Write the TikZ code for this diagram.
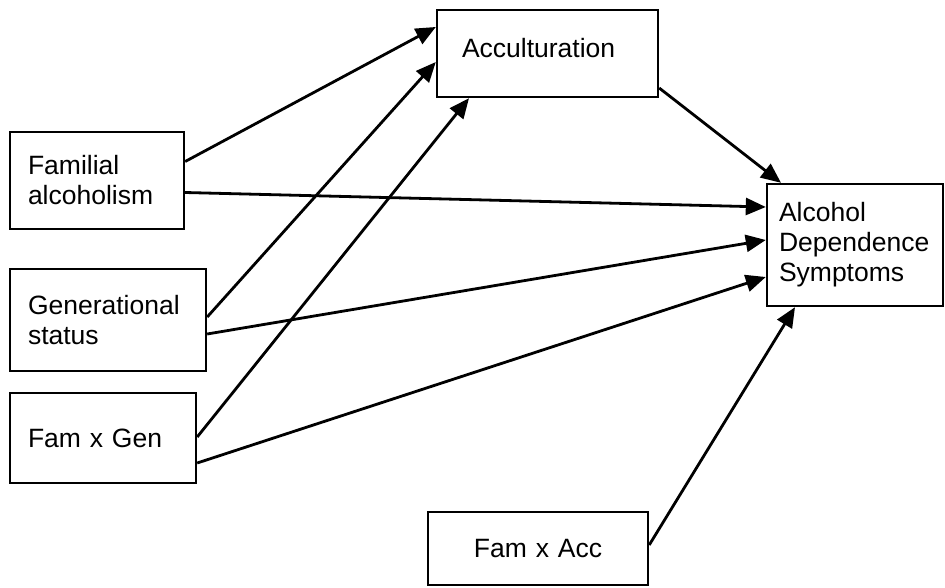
\documentclass[tikz,border=0pt]{standalone}
\usepackage{fontspec}
\setmainfont{Liberation Sans}
\usepackage{tikz}
\usetikzlibrary{arrows.meta,positioning}

\tikzset{
  varBox/.style={draw, rectangle, line width=2.4pt, align=left, inner ysep=0pt,
    font=\fontsize{26.5}{30}\selectfont},
}

\begin{document}
\begin{tikzpicture} [x=1pt, y=-1pt, >={Triangle[length=20pt,width=17pt]}, line width=2.8pt]

\useasboundingbox (0,0) rectangle (945,587);

\node [varBox, minimum width=221pt, minimum height=87pt, text width=171pt, inner xsep=25pt, text depth=12pt] (acculturation) at (547.5,53.5) {Acculturation};

\node [varBox, minimum width=174pt, minimum height=97pt, text width=138pt, inner xsep=18pt] (familial) at (97,180.5) {Familial\\alcoholism};

\node [varBox, minimum width=196pt, minimum height=102pt, text width=160pt, inner xsep=18pt] (generational) at (108,320) {Generational\\status};

\node [varBox, minimum width=186pt, minimum height=90pt, text width=150pt, inner xsep=18pt] (famGen) at (103,438) {Fam x Gen};

\node [varBox, minimum width=176pt, minimum height=122pt, text width=152pt, inner xsep=12pt] (symptoms) at (855,245) {Alcohol\\Dependence\\Symptoms};

\node [varBox, align=center, minimum width=220pt, minimum height=73pt, text width=180pt, inner xsep=20pt] (famAcc) at (538,548.5) {Fam x Acc};

% paths into acculturation
\draw [->] ([yshift=19pt]familial.east) -- ([yshift=26.5pt]acculturation.west);
\draw [->] ([yshift=3pt]generational.east) -- ([yshift=-8.5pt]acculturation.west);
\draw [->] ([yshift=1pt]famGen.east) -- ([xshift=-78.5pt]acculturation.south);

% paths into symptoms
\foreach \n/\s/\e in {familial/-12/38, generational/-14/5, famGen/-25/-32}
  \draw [->] ([yshift=\s pt]\n.east) -- ([yshift=\e pt]symptoms.west);

\draw [->] ([yshift=-34.5pt]acculturation.east) -- ([xshift=-74pt]symptoms.north);
\draw [->] ([yshift=3.5pt]famAcc.east) -- ([xshift=-60pt]symptoms.south);

\end{tikzpicture}
\end{document}
